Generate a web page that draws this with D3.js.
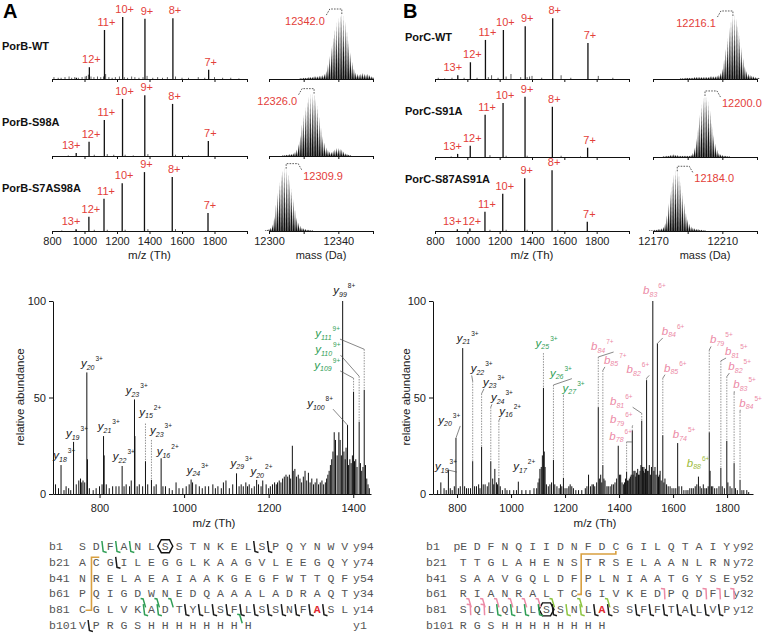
<!DOCTYPE html>
<html>
<head>
<meta charset="utf-8">
<script src="https://cdn.jsdelivr.net/npm/d3@7"></script>
<style>
  body { margin: 0; background: #fff; }
</style>
</head>
<body>
<svg id="fig" width="762" height="637"></svg>
<script>
// ---------- data: intact mass spectra ----------
var chargeStates = ["7+", "8+", "9+", "10+", "11+", "12+", "13+"];

var porBNames = ["PorB-WT", "PorB-S98A", "PorB-S7AS98A"];
var porBMz = [
  [1764, 1544, 1372, 1235, 1123, 1030, 950],
  [1762, 1542, 1371, 1234, 1122, 1028, 949],
  [1760, 1540, 1369, 1232, 1120, 1027, 948]
];
var porBInt = [
  [15, 98, 97, 100, 79, 19, 2],
  [24, 84, 98, 92, 58, 23, 5],
  [29, 87, 95, 77, 52, 23, 3]
];
var porBShow13 = [false, true, true];
var porBNoise = [
  [[812,3],[838,2],[856,2],[880,3],[905,4],[921,2],[940,3],[962,2],[985,3],[1004,4],[1012,5],[1024,7],[1040,4],[1058,3],[1080,4],[1100,3],[1117,4],[1130,8],[1150,3],[1170,2],[1190,3],[1215,4],[1245,3],[1265,2],[1290,4],[1310,3],[1335,2],[1360,3],[1385,5],[1420,2],[1450,3],[1480,2],[1510,3],[1560,4],[1600,2],[1640,2],[1700,3],[1740,2],[1800,3],[1850,2],[1900,2],[1950,1]],
  [[900,1],[1060,2],[1140,3],[1180,2],[1250,2],[1300,1],[1390,3],[1560,2],[1640,1]],
  [[860,1],[950,2],[1060,2],[1140,2],[1250,2],[1390,3],[1560,3]]
];

var porCNames = ["PorC-WT", "PorC-S91A", "PorC-S87AS91A"];
var porCMz = [
  [1746, 1528, 1358, 1223, 1112, 1019, 941],
  [1744, 1526, 1357, 1221, 1110, 1018, 940],
  [1742, 1524, 1355, 1219, 1109, 1016, 938]
];
var porCInt = [
  [58, 98, 85, 79, 63, 27, 6],
  [15, 81, 97, 87, 68, 18, 5],
  [15, 98, 85, 60, 31, 4, 3]
];
var porCShow13 = [true, true, true];
var porCNoise = [
  [[820,2],[860,1],[905,2],[980,2],[1060,2],[1130,3],[1150,6],[1190,2],[1240,4],[1270,8],[1330,3],[1370,3],[1385,4],[1400,5],[1460,2],[1580,6],[1640,2],[1810,5],[1900,2]],
  [[900,1],[1140,3],[1240,2],[1370,2],[1580,2],[1700,1]],
  [[1140,2],[1240,2],[1370,2],[1560,2]]
];

// ---------- data: deconvoluted isotope envelopes (1 Da steps) ----------
var porBMass = ["12342.0", "12326.0", "12309.9"];
var porBEnvStart = [12318, 12308, 12298];
var porBEnv = [
  [1,1,2,2,2,3,3,3,4,4,4,5,5,6,8,12,22,35,50,64,76,86,93,98,100,96,88,74,58,40,26,16,10,8,7,8,9,8,7,8,6,4,3],
  [1,1,2,2,3,3,4,6,10,18,32,48,62,74,84,90,94,95,96,88,76,60,44,30,20,13,9,7,6,8,10,12,12,11,10,7,4,3,2,1],
  [1,2,3,5,10,22,40,58,74,86,93,96,95,88,78,64,48,33,21,13,8,5,4,3,2,2,1,1]
];
var porBSide = [-1, -1, 1];

var porCMass = ["12216.1", "12200.0", "12184.0"];
var porCEnvStart = [12186, 12176, 12168];
var porCEnv = [
  [1,1,1,2,2,2,2,2,3,3,3,3,3,3,3,3,3,4,4,4,4,5,6,9,16,30,46,62,78,89,96,97,92,82,66,48,32,20,12,8,6,5,4,3,2,2],
  [1,1,2,2,3,3,4,3,3,2,2,2,2,2,2,2,3,6,14,28,46,64,80,90,94,92,84,70,52,34,20,11,6,4,3,2,2,1,1],
  [1,1,1,2,2,3,3,4,6,12,24,42,60,76,86,92,92,86,74,58,42,28,18,11,7,5,4,3,3,2,2,1,1]
];
var porCSide = [-1, 1, 1];

// ---------- data: MS/MS spectra (m/z, relative abundance) ----------
var peaksA = [[696,5],[703,3],[709,15],[716,2],[721,4],[727,3],[732,2],[738.6,27],[745,5],[751,7],[755,8],[758,6],[761,7],[765,6],[770,63],[771.5,18],[776,3],[785,2],[792,3],[800,4],[806,5],[809.5,30],[811,20],[816,5],[823,3],[831,4],[839,4],[846,4],[853.5,14.5],[858,4],[863,5],[871,4],[875,7],[882.7,49],[883.7,30],[889,4],[894,5],[902,4],[908.7,17],[914,5],[922.8,7.3],[929,4],[934,5],[945.7,18.5],[950,4],[956,4],[965,3],[972,2],[981,6],[988,3],[997,3],[1005,4],[1012,5],[1016.6,7.5],[1020,6],[1028,5],[1036,4],[1043,3],[1050,4],[1058,4],[1068,5],[1074,3],[1080,4],[1088,3],[1093,6],[1099,7],[1107,3],[1115,5],[1124,10.7],[1130,4],[1135,5],[1140,4],[1146,6],[1150,4],[1154,5],[1160,3],[1166,4],[1171.6,7.3],[1176,5],[1182,4],[1186,7],[1194,5],[1200,3],[1204,4],[1209,5],[1214,6],[1218,5],[1221,6],[1225,7],[1229,6],[1233,8],[1237,9],[1241,10],[1245,9],[1249,10],[1252,8],[1256,25],[1258,12],[1262,13],[1266,9],[1270,10],[1274,8],[1278,6],[1282,9],[1286,12],[1290,7],[1294,11],[1298,6],[1302,8],[1306,5],[1310,6],[1314,8],[1318,5],[1322,6],[1326,7],[1330,5],[1334,6],[1337,8],[1340,10],[1343,12],[1346,15],[1349,18],[1352,22],[1355,32],[1358,28],[1362,20],[1366,32],[1369,28],[1372,20],[1375,100],[1378,22],[1381,18],[1383,24],[1386.5,35.7],[1389,15],[1392,18],[1395,16],[1398,20],[1400.8,53],[1403,17],[1406,18],[1409,14],[1414,37.5],[1417,16],[1420,12],[1423,14],[1426,54],[1429,15],[1432,8],[1435,5],[1438,3]];

var peaksB = [[728,2],[740,6],[752,3],[760,2],[768,12.4],[775,3],[782,2],[790,4],[796,29],[805,3],[812,4],[821,75.6],[828,4],[835,3],[842,3],[850,3],[858,17],[865,4],[872,4],[880,5],[885,3],[891,24.5],[897,5],[904,5],[912,4],[918,6],[925,17],[932,8],[936,5],[940,13],[946,6],[950,5],[955,8.3],[960,4],[968,2],[978,3],[985,2],[995,2],[1010,2],[1020,2],[1027,6.4],[1040,2],[1055,2],[1070,2],[1085,3],[1095,3],[1100,6],[1104,8],[1107,13],[1112,14],[1116,20],[1120,55],[1123,22],[1126,14],[1131,5],[1138,4],[1144,5],[1150,6],[1157,17.6],[1162,5],[1170,4],[1178,3],[1183,5],[1188,4],[1194,8.3],[1200,3],[1207,3],[1214,4],[1219,5],[1225,4],[1231,3],[1240,2],[1250,2],[1262,2],[1275,3],[1281,4],[1287,10],[1294,4],[1300,5],[1305,5],[1310,4],[1317,6],[1323,45],[1327,8],[1332,10],[1336,6],[1340,15],[1344,8],[1348,7],[1355,4],[1360,4],[1367,4],[1373,5],[1379,5],[1385,6],[1391,8],[1397,25],[1402,10],[1406,10],[1411,6],[1416,5],[1420,6],[1424,8],[1428,11.6],[1431,7],[1434,7],[1438,8],[1442,9],[1445,10],[1449,33],[1452,10],[1455,12],[1459,12],[1462,9],[1465,11],[1469,13],[1472,10],[1475,10],[1478,12],[1481,15],[1484,38],[1487,14],[1490,12],[1492,14],[1495,11],[1498,13],[1502,59],[1505,12],[1508,12],[1512,15],[1516,10],[1520,14],[1525,100],[1529,12],[1533,14],[1537,10],[1542,78],[1546,9],[1549,10],[1552,12],[1556,7],[1562,30.5],[1566,6],[1570,8],[1576,5],[1582,4],[1589,4],[1596,3],[1603,3],[1610,3],[1617,26.4],[1622,4],[1632,4],[1640,2],[1648,2],[1655,2],[1662,3],[1669,3],[1675,3],[1682,4],[1688,5],[1694,9],[1700,4],[1706,3],[1712,5],[1718,3],[1724,3],[1730,4],[1734,32],[1737,12],[1742,4],[1747,4],[1754,3],[1762,3],[1770,4],[1777,13.5],[1782,4],[1790,3],[1799,27.5],[1803,6],[1811,4],[1818,3],[1826,16],[1831,3],[1838,2],[1848,7.3],[1855,2],[1862,2],[1873,2],[1880,1]];

// ion annotations: [ion, index, charge, peak m/z, peak %, label m/z, label %, elbow %, leader, colour]
var annA = [
  ["y","18","3+",709,15,690.7,18.1,null,0,"k"],
  ["y","19","3+",738.6,27,720.7,29.5,null,0,"k"],
  ["y","20","3+",770,63,756,65.8,null,0,"k"],
  ["y","21","3+",809.5,30,796,33,null,0,"k"],
  ["y","22","3+",853.5,14.5,831.5,17.6,null,0,"k"],
  ["y","23","3+",882.7,49,862,51.8,null,0,"k"],
  ["y","15","2+",908.7,17,894,40.5,36.5,0,"k"],
  ["y","23","3+",922.8,7.3,919.5,31,28,0,"k"],
  ["y","16","2+",945.7,18.5,935.3,20.2,null,0,"k"],
  ["y","24","3+",1016.6,7.5,1006,10.4,null,0,"k"],
  ["y","29","3+",1124,10.7,1109.8,14,null,0,"k"],
  ["y","20","2+",1171.6,7.3,1157,9.8,null,0,"k"],
  ["y","99","8+",1375,100,1352.7,103.6,null,0,"k"],
  ["y","100","8+",1386.5,35.7,1291,45,null,1,"k"],
  ["y","109","9+",1400.8,53,1308,64.8,60,1,"g"],
  ["y","110","9+",1414,37.5,1310,73,61,1,"g"],
  ["y","111","9+",1426,54,1310,81.3,75,1,"g"]
];
var annB = [
  ["y","19","3+",768,12.4,718.4,12.4,null,1,"k"],
  ["y","20","3+",796,29,730.6,36.3,null,1,"k"],
  ["y","21","3+",821,75.6,798.8,79,null,0,"k"],
  ["y","22","3+",858,17,850.6,63,58.5,1,"k"],
  ["y","23","3+",891,24.5,896,56,52,1,"k"],
  ["y","24","3+",925,17,925.5,48,45,1,"k"],
  ["y","16","2+",955,8.3,956,41,38,1,"k"],
  ["y","17","2+",1027,6.4,1008.4,12.4,null,0,"k"],
  ["y","25","3+",1120,55,1091,76.3,73,0,"g"],
  ["y","26","3+",1157,17.6,1144,60.8,56.5,1,"g"],
  ["y","27","3+",1194,8.3,1191,53,51,1,"g"],
  ["b","84","7+",1323,45,1296,74.6,71,1,"p"],
  ["b","85","7+",1340,15,1344,67.4,64,1,"p"],
  ["b","82","6+",1502,59,1428,62.5,60,1,"p"],
  ["b","81","6+",1484,38,1366.6,46,41.8,1,"p"],
  ["b","79","6+",1449,33,1366.6,36.6,34.9,1,"p"],
  ["b","78","6+",1428,11.6,1364,28,27,1,"p"],
  ["b","83","6+",1525,100,1489,103.6,null,0,"p"],
  ["b","84","6+",1542,78,1558,82.4,null,1,"p"],
  ["b","85","6+",1562,30.5,1566.5,63.4,60,1,"p"],
  ["b","74","5+",1617,26.4,1598.8,28.9,null,0,"p"],
  ["b","88","6+",1694,9,1650.6,14.1,null,0,"yg"],
  ["b","79","5+",1734,32,1737,78,74.6,1,"p"],
  ["b","81","5+",1777,13.5,1792.5,72,69,1,"p"],
  ["b","82","5+",1799,27.5,1804.7,64.2,60.8,1,"p"],
  ["b","83","5+",1826,16,1823,54.8,52,1,"p"],
  ["b","84","5+",1848,7.3,1845,45.2,42.6,1,"p"]
];

// ---------- data: sequences ----------
var seqA = ["SDFANLSSTNKELSPQYNWV","ACGILEGGLKAAGVLEEGQY","NRELAEAIAAKGEGFWTTQF","PQIGDWNEDQAAALADRAQT","CGLVKADTYLSFLSSNFASL","VPRGSHHHHHHHH"].map(function(s){ return s.split(""); });
var seqALeft = ["b1","b21","b41","b61","b81","b101"];
var seqARight = ["y94","y74","y54","y34","y14","y1"];
var seqB = [["pE"].concat("DFNQIIDNFDCGILQTAIY".split(""))].concat(["TTGLAHENSTRSELAANLRN","SAAVGQLDFPLNIAATGYSE","RIANRALTCGIVKEDPQDFL","SQLQLLSSNLASSFFTALVP","RGSHHHHHHHH"].map(function(s){ return s.split(""); }));
var seqBLeft = ["b1","b21","b41","b61","b81","b101"];
var seqBRight = ["y92","y72","y52","y32","y12",""];

// fragment marks: [row, boundary after column, shape, colour]
var marksA = [[0,1,"y","g"],[0,2,"y","g"],[0,3,"y","g"],[0,12,"y","k"],[0,13,"y","k"],[1,2,"y","k"],
  [3,4,"d","g"],[3,5,"d","g"],[3,6,"d","g"],[4,4,"y","g"],[4,5,"y","g"],
  [4,7,"y","k"],[4,8,"y","k"],[4,9,"y","k"],[4,10,"y","k"],[4,11,"y","k"],[4,12,"y","k"],[4,13,"y","k"],[4,14,"y","k"],[4,15,"y","k"],[4,16,"y","k"],[4,17,"y","k"],
  [4,11,"d","g"],[5,0,"y","k"]];
var marksB = [[3,0,"d","p"],[3,1,"d","p"],[3,2,"d","p"],[3,3,"d","p"],[3,4,"d","p"],[3,5,"d","p"],[3,6,"d","lg"],[3,8,"d","lg"],[3,10,"d","lg"],
  [3,14,"v","p"],[3,17,"v","p"],[3,18,"v","p"],[3,19,"v","p"],[4,0,"v","p"],[4,1,"v","p"],
  [4,2,"y","g"],[4,3,"y","g"],[4,4,"y","g"],[4,5,"y","g"],[4,6,"y","k"],[4,7,"y","lg"],[4,8,"y","lg"],[4,9,"y","k"],[4,10,"y","k"],
  [4,12,"y","k"],[4,13,"y","k"],[4,14,"y","k"],[4,15,"y","k"],[4,16,"y","k"],[4,17,"y","k"],[4,18,"y","k"]];

// ---------- drawing ----------
var FONT = "'Liberation Sans', Arial, Helvetica, sans-serif";
var MONO = "'Liberation Mono', 'Courier New', monospace";
var RED = "#e3403a";
var COL = {k: "#1a1a1a", g: "#2f9e55", p: "#ec8aa6", yg: "#9dbb3a", lg: "#8cc43f"};
var svg = d3.select("#fig").attr("font-family", FONT);
var fmt = d3.format("d");

function sticks(g, x, y, pts, color, w) {
  g.selectAll(null).data(pts).enter().append("line")
    .attr("x1", function(d) { return x(d[0]); })
    .attr("x2", function(d) { return x(d[0]); })
    .attr("y1", y(0))
    .attr("y2", function(d) { return y(d[1]); })
    .attr("stroke", color)
    .attr("stroke-width", w);
}

function styleAxis(ax, size) {
  ax.attr("font-family", FONT).attr("font-size", size);
  ax.select(".domain").attr("stroke", "#111");
  ax.selectAll(".tick line").attr("stroke", "#111");
  ax.selectAll(".tick text").attr("fill", "#222");
}

function drawTop(panelX, nameX, nameYs, bases, names, mzs, ints, show13, noises) {
  var x = d3.scaleLinear().domain([800, 2000]).range(panelX);
  bases.forEach(function(base, i) {
    var g = svg.append("g");
    var y = d3.scaleLinear().domain([0, 100]).range([base, base - 62]);
    sticks(g, x, y, noises[i], "#333", 0.8);
    var pts = mzs[i].map(function(m, j) { return [m, ints[i][j]]; });
    sticks(g, x, y, pts, "#111", 1.3);
    pts.forEach(function(p, j) {
      if (j === 6 && !show13[i]) return;
      var top = y(p[1]);
      var ly = Math.min(top - 4, base - 6);
      g.append("text")
        .attr("x", x(p[0]) + (j === 6 ? -5 : 2))
        .attr("y", ly)
        .attr("text-anchor", "middle")
        .attr("font-size", 11)
        .attr("fill", RED)
        .text(chargeStates[j]);
    });
    var axis = d3.axisBottom(x).tickValues(d3.range(800, 2001, 200)).tickSize(3).tickSizeOuter(0).tickPadding(3)
      .tickFormat(function(d) { return (i === 2 && d < 2000) ? fmt(d) : ""; });
    var ax = g.append("g").attr("transform", "translate(0," + base + ")").call(axis);
    styleAxis(ax, 11);
    ax.select(".domain").attr("stroke-width", 1.2);
    svg.append("text").attr("x", nameX).attr("y", nameYs[i])
      .attr("font-weight", "bold").attr("font-size", 11).attr("fill", "#111").text(names[i]);
  });
  svg.append("text").attr("x", (panelX[0] + panelX[1]) / 2).attr("y", 259)
    .attr("text-anchor", "middle").attr("font-size", 11.5).attr("fill", "#222").text("m/z (Th)");
}

function drawEnv(domain, range, ticks, tickLabels, bases, starts, envs, masses, sides) {
  var x = d3.scaleLinear().domain(domain).range(range);
  bases.forEach(function(base, i) {
    var g = svg.append("g");
    var y = d3.scaleLinear().domain([0, 100]).range([base, base - 66]);
    var peakIdx = 0;
    envs[i].forEach(function(v, k) {
      var m = starts[i] + k;
      if (v > envs[i][peakIdx]) peakIdx = k;
      g.append("path")
        .attr("d", "M" + x(m - 0.45) + "," + y(0) + "L" + x(m) + "," + y(v) + "L" + x(m + 0.45) + "," + y(0) + "Z")
        .attr("fill", "#111");
    });
    var axis = d3.axisBottom(x).tickValues(ticks).tickSize(3).tickSizeOuter(0).tickPadding(3)
      .tickFormat(function(d) { return (i === 2 && tickLabels.indexOf(d) >= 0) ? fmt(d) : ""; });
    var ax = g.append("g").attr("transform", "translate(0," + base + ")").call(axis);
    styleAxis(ax, 11);
    ax.select(".domain").attr("stroke-width", 1.2);

    // dashed bracket to apex and mass label
    var px = x(+masses[i]);
    var top = y(envs[i][peakIdx]);
    var s = sides[i];
    var bx = px + s * 12, by = top - 4;
    var ex = bx + s * 4, ey = top + 3;
    g.append("path")
      .attr("d", "M" + px + "," + (top + 1) + "V" + by + "H" + bx + "L" + ex + "," + ey)
      .attr("fill", "none").attr("stroke", "#333").attr("stroke-width", 0.8).attr("stroke-dasharray", "1.6,1.2");
    g.append("text").attr("x", ex + s * 1).attr("y", top + 12)
      .attr("text-anchor", s < 0 ? "end" : "start")
      .attr("font-size", 11).attr("fill", RED).text(masses[i]);
  });
  svg.append("text").attr("x", (range[0] + range[1]) / 2).attr("y", 259)
    .attr("text-anchor", "middle").attr("font-size", 11).attr("fill", "#222").text("mass (Da)");
}

function ionLabel(g, x, y, a) {
  var t = g.append("text").attr("x", x(a[5])).attr("y", y(a[6])).attr("fill", COL[a[9]]);
  t.append("tspan").attr("font-style", "italic").attr("font-size", 11.5).text(a[0]);
  t.append("tspan").attr("font-style", "italic").attr("font-size", 7).attr("dy", 2.5).text(a[1]);
  t.append("tspan").attr("font-size", 6.5).attr("dx", 1).attr("dy", -8.5).text(a[2]);
  return t;
}

function drawMsms(domain, range, tickVals, yLabelX, peaks, ann) {
  var g = svg.append("g");
  var x = d3.scaleLinear().domain(domain).range(range);
  var y = d3.scaleLinear().domain([0, 100]).range([494, 301]);
  sticks(g, x, y, peaks, "#111", 1);

  var xa = g.append("g").attr("transform", "translate(0,494)")
    .call(d3.axisBottom(x).tickValues(tickVals).tickSize(4).tickSizeOuter(0).tickPadding(6).tickFormat(fmt));
  styleAxis(xa, 11);
  var ya = g.append("g").attr("transform", "translate(" + range[0] + ",0)")
    .call(d3.axisLeft(y).tickValues([0, 50, 100]).tickSize(4).tickSizeOuter(0).tickPadding(3));
  styleAxis(ya, 11);

  g.append("text").attr("transform", "translate(" + yLabelX + ",397) rotate(-90)")
    .attr("text-anchor", "middle").attr("font-size", 11.5).attr("fill", "#222").text("relative abundance");
  g.append("text").attr("x", (range[0] + range[1]) / 2 + 2).attr("y", 527)
    .attr("text-anchor", "middle").attr("font-size", 11.5).attr("fill", "#222").text("m/z (Th)");

  ann.forEach(function(a) {
    var t = ionLabel(g, x, y, a);
    var w = t.node().getComputedTextLength();
    var px = x(a[3]), pt = y(a[4]);
    var lx = x(a[5]), ly = y(a[6]);
    var target = a[7] === null ? pt : y(a[7]);
    if (a[7] !== null) {
      g.append("line").attr("x1", px).attr("x2", px).attr("y1", target).attr("y2", pt - 0.5)
        .attr("stroke", "#777").attr("stroke-width", 0.8).attr("stroke-dasharray", "1.5,1.2");
    }
    if (a[8]) {
      var sx, sy;
      if (lx >= px - 2) { sx = lx + 1; sy = ly + 3; }
      else { sx = lx + w + 1; sy = ly + 2; }
      g.append("line").attr("x1", sx).attr("y1", sy).attr("x2", px).attr("y2", target)
        .attr("stroke", "#555").attr("stroke-width", 0.7);
    }
  });
}

function drawSeq(rows, colRange, leftLab, leftX, rightLab, rightX, redPos, hexPos, marks, bond) {
  var g = svg.append("g").attr("font-family", MONO).attr("font-size", 11.5);
  var cx = d3.scaleLinear().domain([0, 19]).range(colRange);
  var ry = d3.scaleLinear().domain([0, 5]).range([550, 629]);
  // disulfide bond
  g.append("path").attr("d", bond(cx, ry)).attr("fill", "none").attr("stroke", "#d9a03f").attr("stroke-width", 1.6);
  rows.forEach(function(r, i) {
    g.append("text").attr("x", leftX).attr("y", ry(i)).attr("fill", "#555").text(leftLab[i]);
    if (rightLab[i]) g.append("text").attr("x", rightX).attr("y", ry(i)).attr("fill", "#555").text(rightLab[i]);
    r.forEach(function(aa, c) {
      var isRed = redPos[0] === i && redPos[1] === c;
      g.append("text").attr("x", cx(c) - (aa.length > 1 ? 3 : 0)).attr("y", ry(i))
        .attr("text-anchor", "middle")
        .attr("fill", isRed ? "#e0262d" : "#555")
        .attr("font-weight", isRed ? "bold" : null)
        .text(aa);
    });
  });
  // phospho-site hexagon
  var hx = cx(hexPos[1]), hy = ry(hexPos[0]) - 3.8;
  g.append("path")
    .attr("d", "M" + (hx - 7.5) + "," + hy + "L" + (hx - 4) + "," + (hy - 6.5) + "H" + (hx + 4) + "L" + (hx + 7.5) + "," + hy +
      "L" + (hx + 4) + "," + (hy + 6.5) + "H" + (hx - 4) + "Z")
    .attr("fill", "none").attr("stroke", "#111").attr("stroke-width", 1.4);
  // fragment marks
  marks.forEach(function(m) {
    var bx = cx(m[1] + 0.5), by = ry(m[0]);
    var d;
    if (m[2] === "y") d = "M" + (bx - 1.3) + "," + (by - 9) + "L" + bx + "," + (by + 1.5) + "L" + (bx + 3.5) + "," + (by + 2.5);
    else if (m[2] === "d") d = "M" + (bx - 4) + "," + (by + 1) + "L" + (bx - 1.5) + "," + (by + 1.5) + "L" + (bx + 1) + "," + (by + 10);
    else d = "M" + (bx - 3.5) + "," + (by - 9) + "L" + bx + "," + (by - 8.5) + "L" + (bx + 0.5) + "," + (by + 2);
    g.append("path").attr("d", d).attr("fill", "none").attr("stroke", COL[m[3]]).attr("stroke-width", 1.5);
  });
}

// panel letters
svg.append("text").attr("x", 3).attr("y", 18).attr("font-size", 20).attr("font-weight", "bold").text("A");
svg.append("text").attr("x", 403).attr("y", 18).attr("font-size", 20).attr("font-weight", "bold").text("B");

drawTop([52, 247], 2, [50, 126, 192], [79, 156, 231], porBNames, porBMz, porBInt, porBShow13, porBNoise);
drawTop([435, 629], 405, [41, 115, 183], [79, 157, 231], porCNames, porCMz, porCInt, porCShow13, porCNoise);

drawEnv([12300, 12360], [269, 373], [12300, 12320, 12340, 12360], [12300, 12340], [79, 156, 231], porBEnvStart, porBEnv, porBMass, porBSide);
drawEnv([12170, 12230], [653, 757], [12170, 12190, 12210, 12230], [12170, 12210], [79, 157, 231], porCEnvStart, porCEnv, porCMass, porCSide);

drawMsms([690, 1442], [53, 371], [800, 1000, 1200, 1400], 24, peaksA, annA);
drawMsms([711, 1896], [433, 753], [800, 1000, 1200, 1400, 1600, 1800], 410, peaksB, annB);

drawSeq(seqA, [82.5, 344.7], seqALeft, 49, seqARight, 353, [4, 17], [0, 6], marksA,
  function(cx, ry) {
    return "M" + (cx(1) + 3) + "," + (ry(1) - 8.5) + "H" + cx(0.65) + "V" + (ry(4) - 3) + "H" + (cx(0) + 3);
  });
drawSeq(seqB, [463.3, 726.8], seqBLeft, 426, seqBRight, 733, [4, 10], [4, 6], marksB,
  function(cx, ry) {
    return "M" + cx(11) + "," + (ry(0) + 1) + "V" + (ry(0) + 4) + "H" + cx(8.5) + "V" + (ry(3) - 3) + "H" + (cx(8) + 3);
  });
</script>
</body>
</html>
